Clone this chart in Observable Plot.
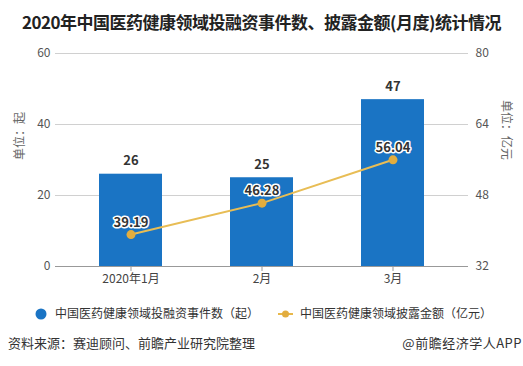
<!DOCTYPE html>
<html><head><meta charset="utf-8">
<script src="https://cdn.jsdelivr.net/npm/d3@7"></script>
<script src="https://cdn.jsdelivr.net/npm/@observablehq/plot@0.6"></script>
<style>
body{margin:0;width:523px;height:366px;overflow:hidden;background:#fff;font-family:"Noto Sans CJK SC","Noto Sans",sans-serif;position:relative;}
#title{height:44px;line-height:44px;text-align:center;font-size:17px;font-weight:bold;color:#222;letter-spacing:-0.5px;}
#legend{position:absolute;top:300px;left:0;width:523px;height:28px;font-size:12px;color:#333;}
#source{position:absolute;top:333px;left:8px;font-size:13px;color:#333;}
#brand{position:absolute;top:333px;right:1px;font-size:13px;color:#333;letter-spacing:0.5px;}
</style></head>
<body>
<div id="title">2020年中国医药健康领域投融资事件数、披露金额(月度)统计情况</div>
<div id="chart"></div>
<div id="legend">
  <svg width="523" height="28" style="position:absolute;left:0;top:0">
    <circle cx="41" cy="14" r="5.5" fill="#1a74c4"/>
    <text x="55" y="18" font-size="12" fill="#333">中国医药健康领域投融资事件数（起）</text>
    <line x1="278" y1="14" x2="293" y2="14" stroke="#e8b84a" stroke-width="2"/>
    <circle cx="285.5" cy="14" r="3.5" fill="#e2ad3f"/>
    <text x="300" y="18" font-size="12" fill="#333">中国医药健康领域披露金额（亿元）</text>
  </svg>
</div>
<div id="source">资料来源：赛迪顾问、前瞻产业研究院整理</div>
<div id="brand">@前瞻经济学人APP</div>
<script>
const months = ["2020年1月", "2月", "3月"];
const events = [26, 25, 47];
const amounts = [39.19, 46.28, 56.04];
const leftTicks = [0, 20, 40, 60];
const rightTicks = [32, 48, 64, 80];

// map right-axis values (32..80) onto left scale (0..60)
const toLeft = v => (v - 32) * 60 / 48;
const rows = months.map((m, i) => ({m, e: events[i], a: amounts[i], ay: toLeft(amounts[i])}));

const plot = Plot.plot({
  width: 523,
  height: 252,
  marginTop: 9,
  marginBottom: 30,
  marginLeft: 55,
  marginRight: 55,
  style: {fontFamily: '"Noto Sans CJK SC","Noto Sans",sans-serif', fontSize: "12px", color: "#555"},
  x: {domain: months, paddingInner: 0.52, paddingOuter: 0.33, label: null},
  y: {domain: [0, 60], label: null},
  marks: [
    Plot.ruleY(leftTicks.filter(d => d > 0), {stroke: "#d0d0d0", strokeWidth: 1}),
    Plot.barY(rows, {x: "m", y: "e", fill: "#1a74c4"}),
    Plot.ruleY([0], {stroke: "#999", strokeWidth: 1}),
    Plot.axisX({tickSize: 5, tickPadding: 3, stroke: "#999", fill: "#444", fontSize: 12}),
    Plot.axisY({anchor: "left", ticks: leftTicks, tickSize: 0, tickPadding: 5, fill: "#555", fontSize: 12, label: null}),
    Plot.axisY({anchor: "right", ticks: leftTicks, tickSize: 0, tickPadding: 7, fill: "#555", fontSize: 12, label: null,
      tickFormat: d => rightTicks[leftTicks.indexOf(d)]}),
    Plot.text(["单位：起"], {frameAnchor: "left", dx: -35, rotate: -90, fill: "#666", fontSize: 12}),
    Plot.text(["单位：亿元"], {frameAnchor: "right", dx: 37, rotate: 90, fill: "#666", fontSize: 12}),
    Plot.line(rows, {x: "m", y: "ay", stroke: "#e8bd55", strokeWidth: 2}),
    Plot.dot(rows, {x: "m", y: "ay", r: 4.5, fill: "#e2ad3f"}),
    Plot.text(rows, {x: "m", y: "e", text: d => String(d.e), dy: -13, fontWeight: "bold", fontSize: 13, fill: "#333"}),
    Plot.text(rows, {x: "m", y: "ay", text: d => d.a.toFixed(2), dy: -12, fontWeight: "bold", fontSize: 13, fill: "#333", stroke: "#fff", strokeWidth: 3})
  ]
});
document.getElementById("chart").appendChild(plot);
</script>
</body></html>
